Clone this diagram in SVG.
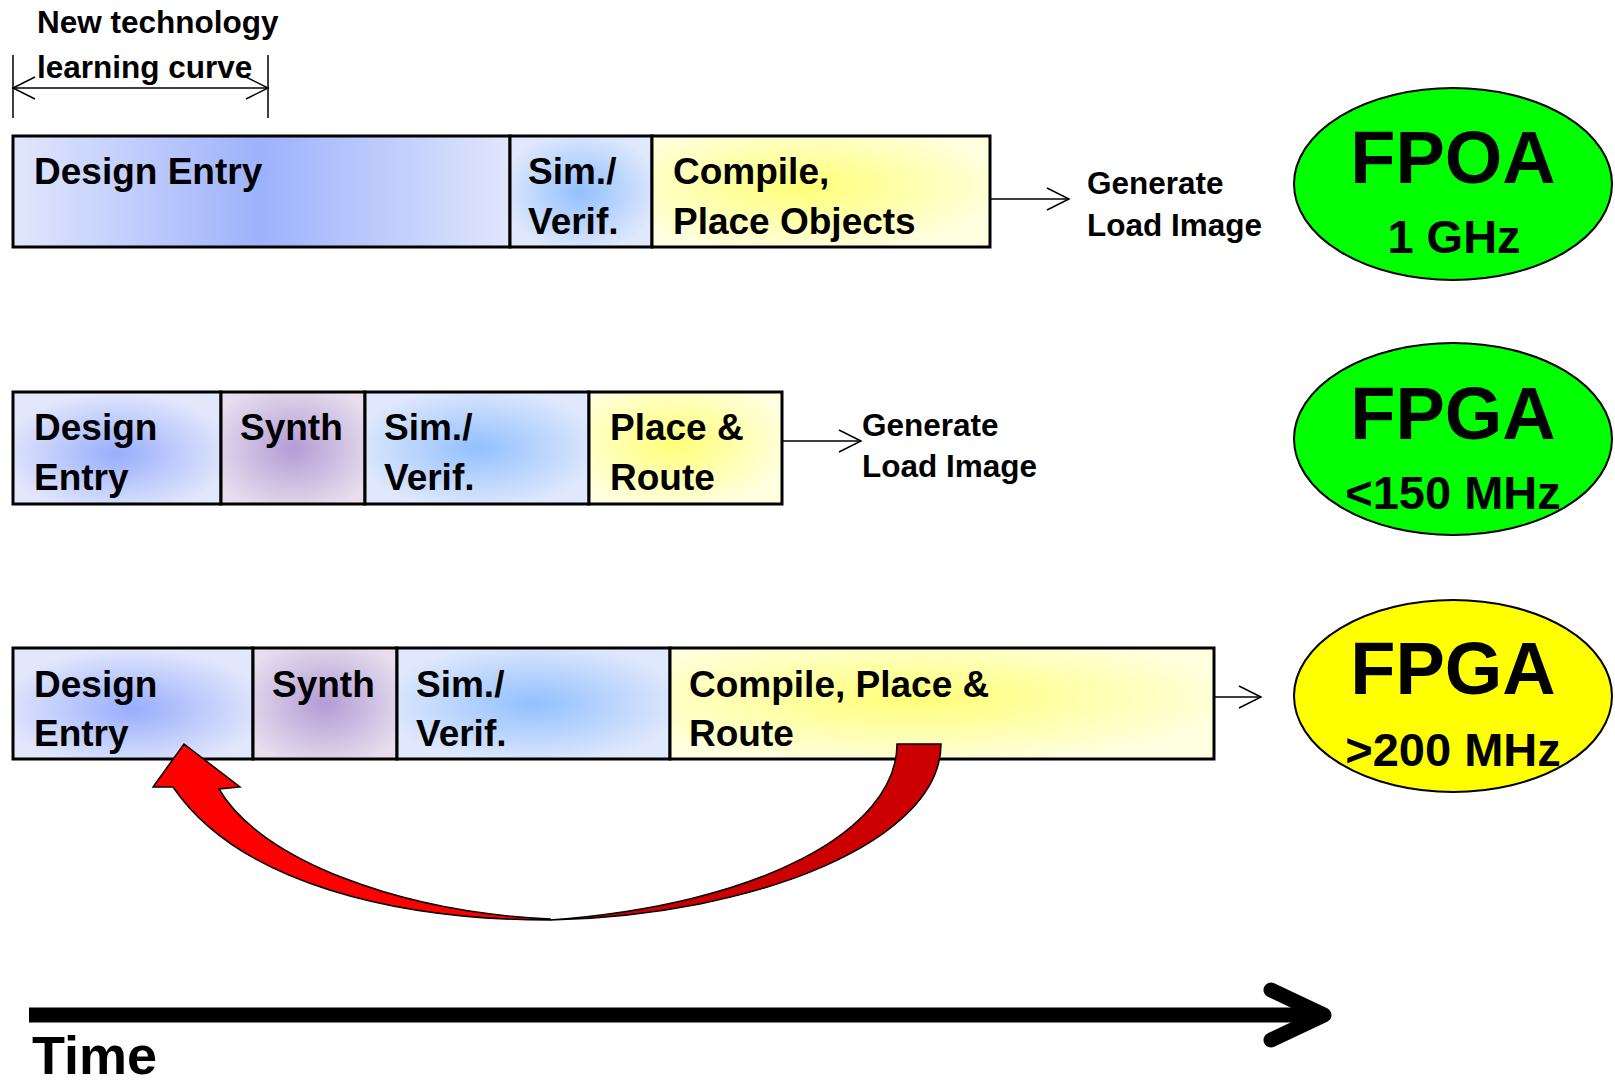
<svg xmlns="http://www.w3.org/2000/svg" width="1615" height="1086" viewBox="0 0 1615 1086">
<defs>
<linearGradient id="gDE1" x1="0" y1="0" x2="1" y2="0">
<stop offset="0" stop-color="#e2e6fc"/>
<stop offset="0.5" stop-color="#9db2fc"/>
<stop offset="1" stop-color="#e0e6fc"/>
</linearGradient>
<radialGradient id="gDE" cx="0.5" cy="0.55" r="0.55">
<stop offset="0" stop-color="#98adfc"/>
<stop offset="1" stop-color="#e2e7fc"/>
</radialGradient>
<radialGradient id="gSim" cx="0.5" cy="0.5" r="0.55">
<stop offset="0" stop-color="#92c0ff"/>
<stop offset="1" stop-color="#dfe8fc"/>
</radialGradient>
<radialGradient id="gSyn" cx="0.5" cy="0.5" r="0.6">
<stop offset="0" stop-color="#b49bd4"/>
<stop offset="1" stop-color="#e6deee"/>
</radialGradient>
<radialGradient id="gYel" cx="0.45" cy="0.45" r="0.6">
<stop offset="0" stop-color="#ffff77"/>
<stop offset="1" stop-color="#ffffe0"/>
</radialGradient>
</defs>
<style>
.box{stroke:#000;stroke-width:3}
.t{font-family:"Liberation Sans",Arial,sans-serif;font-weight:bold;fill:#000}
.bt{font-size:37px}
.lb{font-size:31.5px}
.big{font-size:74px}
.fr{font-size:47px}
.thin{stroke:#000;stroke-width:1.5;fill:none}
.ell{stroke:#000;stroke-width:2}
</style>

<g id="learning-curve">
<text class="t lb" x="37" y="33">New technology</text>
<text class="t lb" x="37" y="78">learning curve</text>
<line class="thin" x1="13" y1="55" x2="13" y2="118"/>
<line class="thin" x1="268" y1="55" x2="268" y2="118"/>
<line class="thin" x1="13" y1="88" x2="268" y2="88"/>
<polyline class="thin" points="35,77 13,88 35,99"/>
<polyline class="thin" points="246,77 268,88 246,99"/>
</g>

<g id="row1">
<g id="r1-design-entry">
<rect class="box" x="13" y="136" width="497" height="111" fill="url(#gDE1)"/>
<text class="t bt" x="34" y="184">Design Entry</text>
</g>
<g id="r1-sim">
<rect class="box" x="510" y="136" width="142" height="111" fill="url(#gSim)"/>
<text class="t bt" x="528" y="184">Sim./</text>
<text class="t bt" x="528" y="234">Verif.</text>
</g>
<g id="r1-compile">
<rect class="box" x="652" y="136" width="338" height="111" fill="url(#gYel)"/>
<text class="t bt" x="673" y="184">Compile,</text>
<text class="t bt" x="673" y="234">Place Objects</text>
</g>
<g id="r1-generate">
<text class="t lb" x="1087" y="194">Generate</text>
<text class="t lb" x="1087" y="236">Load Image</text>
</g>
<g id="fpoa">
<ellipse class="ell" cx="1453" cy="184" rx="159" ry="96" fill="#00ff00"/>
<text class="t big" x="1453" y="183" text-anchor="middle">FPOA</text>
<text class="t fr" x="1454" y="253" text-anchor="middle">1 GHz</text>
</g>
</g>

<g id="row2">
<g id="r2-design-entry">
<rect class="box" x="13" y="392" width="208" height="112" fill="url(#gDE)"/>
<text class="t bt" x="34" y="440">Design</text>
<text class="t bt" x="34" y="490">Entry</text>
</g>
<g id="r2-synth">
<rect class="box" x="221" y="392" width="144" height="112" fill="url(#gSyn)"/>
<text class="t bt" x="240" y="440">Synth</text>
</g>
<g id="r2-sim">
<rect class="box" x="365" y="392" width="224" height="112" fill="url(#gSim)"/>
<text class="t bt" x="384" y="440">Sim./</text>
<text class="t bt" x="384" y="490">Verif.</text>
</g>
<g id="r2-place">
<rect class="box" x="589" y="392" width="193" height="112" fill="url(#gYel)"/>
<text class="t bt" x="610" y="440">Place &amp;</text>
<text class="t bt" x="610" y="490">Route</text>
</g>
<g id="r2-generate">
<text class="t lb" x="862" y="436">Generate</text>
<text class="t lb" x="862" y="477">Load Image</text>
</g>
<g id="fpga1">
<ellipse class="ell" cx="1453" cy="439" rx="159" ry="96" fill="#00ff00"/>
<text class="t big" x="1453" y="439" text-anchor="middle">FPGA</text>
<text class="t fr" x="1453" y="509" text-anchor="middle">&lt;150 MHz</text>
</g>
</g>

<g id="row3">
<g id="r3-design-entry">
<rect class="box" x="13" y="648" width="240" height="111" fill="url(#gDE)"/>
<text class="t bt" x="34" y="697">Design</text>
<text class="t bt" x="34" y="746">Entry</text>
</g>
<g id="r3-synth">
<rect class="box" x="253" y="648" width="144" height="111" fill="url(#gSyn)"/>
<text class="t bt" x="272" y="697">Synth</text>
</g>
<g id="r3-sim">
<rect class="box" x="397" y="648" width="273" height="111" fill="url(#gSim)"/>
<text class="t bt" x="416" y="697">Sim./</text>
<text class="t bt" x="416" y="746">Verif.</text>
</g>
<g id="r3-compile">
<rect class="box" x="670" y="648" width="544" height="111" fill="url(#gYel)"/>
<text class="t bt" x="689" y="697">Compile, Place &amp;</text>
<text class="t bt" x="689" y="746">Route</text>
</g>
<g id="fpga2">
<ellipse class="ell" cx="1453" cy="696" rx="159" ry="96" fill="#ffff00"/>
<text class="t big" x="1453" y="694" text-anchor="middle">FPGA</text>
<text class="t fr" x="1453" y="766" text-anchor="middle">&gt;200 MHz</text>
</g>
</g>

<g id="connectors">
<line class="thin" x1="990" y1="199" x2="1069" y2="199"/>
<polyline class="thin" points="1047,188 1069,199 1047,210"/>
<line class="thin" x1="782" y1="441" x2="861" y2="441"/>
<polyline class="thin" points="839,430 861,441 839,452"/>
<line class="thin" x1="1214" y1="697" x2="1261" y2="697"/>
<polyline class="thin" points="1239,686 1261,697 1239,708"/>
<g id="loop-back-arrow" stroke="#000" stroke-width="1.5" stroke-linejoin="miter">
<path d="M 897,744 L 941,744 C 941,840 760,915 550,920 C 760,905 897,830 897,744 Z" fill="#cc0000"/>
<path d="M 550,920 C 400,920 240,885 173,787 L 153,787 L 184,744 L 240,787 L 219,789 C 260,860 400,912 550,919 Z" fill="#ff0000"/>
</g>
</g>

<g id="time-axis">
<line x1="29" y1="1015" x2="1322" y2="1015" stroke="#000" stroke-width="15"/>
<polyline points="1271,990 1324,1015 1271,1040" fill="none" stroke="#000" stroke-width="15" stroke-linecap="round" stroke-linejoin="round"/>
<text class="t" x="32" y="1074" font-size="54">Time</text>
</g>
</svg>
